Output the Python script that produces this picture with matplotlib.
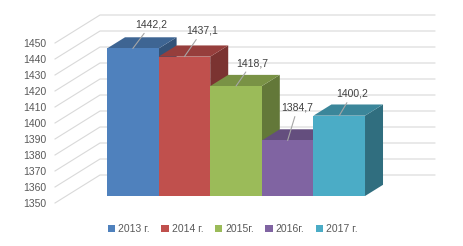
import numpy as np
import matplotlib
matplotlib.use("Agg")
import matplotlib.pyplot as plt
from matplotlib.patches import Polygon, Patch
from matplotlib.colors import to_rgb

plt.rcParams["font.family"] = ["Liberation Sans", "DejaVu Sans"]

# data
years = ["2013 г.", "2014 г.", "2015г.", "2016г.", "2017 г."]
values = [1442.2, 1437.1, 1418.7, 1384.7, 1400.2]
colors = ["#4F81BD", "#C0504D", "#9BBB59", "#8064A2", "#4BACC6"]
yticks = list(range(1350, 1451, 10))
ymin = 1350

# fake 3d: depth direction in data units (categories, values)
DX, DY = 0.872, 17.5
T_FRONT, T_BAR, T_BACK = -0.25, 0.4, 0.75
X_LEFT, X_RIGHT = -1.29, 5.2
# label offsets (pixels) of the data labels
lab_off = [(18, 24), (18, 26), (16, 23), (10, 33), (13, 22)]


def proj(x, v, t):
    return (x + t * DX, v + t * DY)


def shade(c, k):
    r, g, b = to_rgb(c)
    return (r * k, g * k, b * k)


fig = plt.figure(figsize=(4.63, 2.46), dpi=100)
ax = fig.add_axes([0, 0, 1, 1])
ax.set_xlim(-2.574, 6.399)
ax.set_ylim(1318.75, 1472.5)
ax.axis("off")

grid_c = "#D9D9D9"
for v in yticks:
    a = proj(X_LEFT, v, T_FRONT)
    b = proj(X_LEFT, v, T_BACK)
    c = proj(X_RIGHT, v, T_BACK)
    ax.plot([a[0], b[0], c[0]], [a[1], b[1], c[1]], color=grid_c, lw=0.8, zorder=1)
    ax.annotate(str(v), xy=a, xytext=(-9, -1), textcoords="offset pixels",
                ha="right", va="center", fontsize=7.5, color="#595959")

x = np.arange(len(values))
for i, (v, col) in enumerate(zip(values, colors)):
    x0, x1 = i - 0.5, i + 0.5
    ax.bar(i, v - ymin, bottom=ymin, width=1, color=col, zorder=3 + 2 * i)
    side = [proj(x1, ymin, 0), proj(x1, v, 0), proj(x1, v, T_BAR), proj(x1, ymin, T_BAR)]
    top = [proj(x0, v, 0), proj(x1, v, 0), proj(x1, v, T_BAR), proj(x0, v, T_BAR)]
    ax.add_patch(Polygon(side, closed=True, fc=shade(col, 0.64), ec="none", zorder=2 + 2 * i))
    ax.add_patch(Polygon(top, closed=True, fc=shade(col, 0.78), ec="none", zorder=2 + 2 * i))
    ax.annotate(f"{v:.1f}".replace(".", ","), xy=(i, v), xytext=lab_off[i],
                textcoords="offset pixels", ha="center", va="center",
                fontsize=7.5, color="#404040", zorder=20,
                arrowprops=dict(arrowstyle="-", color="#A6A6A6", lw=0.8,
                                shrinkA=1, shrinkB=0))

handles = [Patch(facecolor=c, edgecolor="none") for c in colors]
fig.legend(handles, years, loc="center", bbox_to_anchor=(0.503, 0.069), ncol=5,
           frameon=False, fontsize=7.5, handlelength=0.7, handleheight=0.7,
           handletextpad=0.3, columnspacing=1.1, labelcolor="#595959")

fig.savefig("out.png", dpi=100)
